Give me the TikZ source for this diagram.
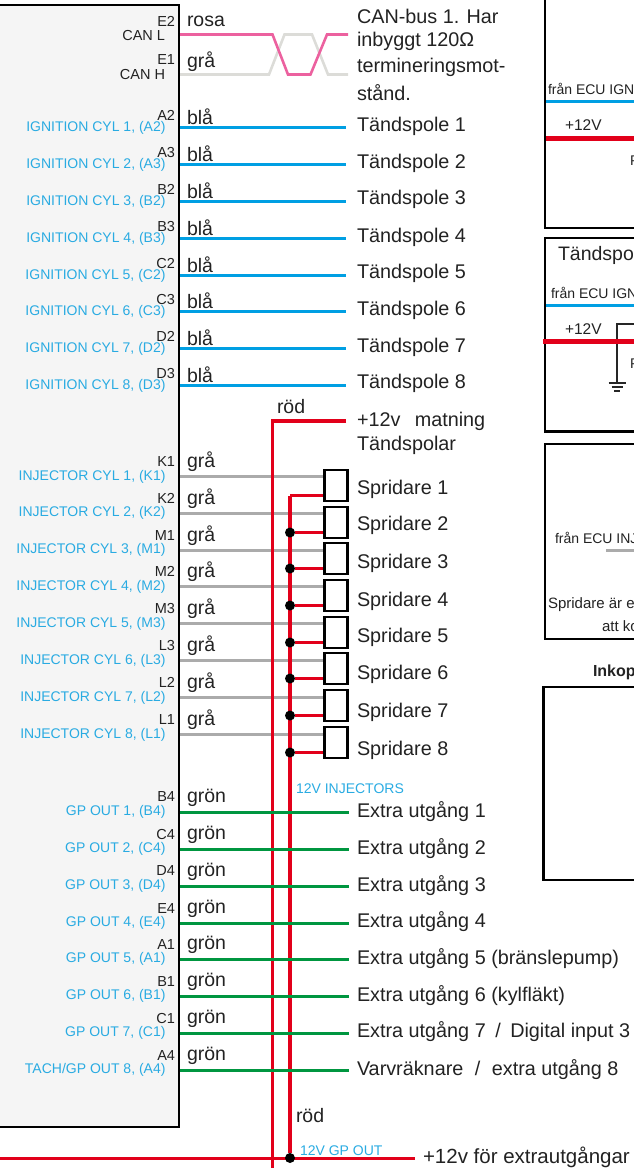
\documentclass[tikz,border=0pt]{standalone}
\usepackage{fontspec}
\setmainfont{Liberation Sans}
\definecolor{bluew}{HTML}{009FE3}
\definecolor{bluet}{HTML}{29ABE2}
\definecolor{redw}{HTML}{E2001A}
\definecolor{greenw}{HTML}{009640}
\definecolor{grayw}{HTML}{ABABAB}
\definecolor{pinkw}{HTML}{EC619F}
\definecolor{canh}{HTML}{DCDCD8}
\definecolor{ink}{HTML}{222222}
\tikzset{
  x=1pt,y=-1pt,
  every node/.style={inner sep=0pt,outer sep=0pt,text=ink},
  lab/.style={anchor=west,yshift=-1.5pt,font=\fontsize{19.8}{19.8}\selectfont},
  col/.style={anchor=west,yshift=-1pt,font=\fontsize{19.5}{19.5}\selectfont},
  pin/.style={anchor=east,font=\fontsize{14.5}{14.5}\selectfont},
  fn/.style={anchor=east,yshift=-1pt,font=\fontsize{14}{14}\selectfont,text=bluet},
  small/.style={anchor=west,font=\fontsize{14}{14}\selectfont},
  mid/.style={anchor=west,font=\fontsize{15.5}{15.5}\selectfont},
  panel/.style={draw=black,line width=2.4pt},
  wire/.style={line width=2.4pt},
  bluewire/.style={wire,draw=bluew},
  graywire/.style={wire,draw=grayw},
  greenwire/.style={wire,draw=greenw},
  redwire/.style={line width=3.4pt,draw=redw},
  inj/.style={draw=black,line width=2.4pt,fill=white,minimum width=23pt,minimum height=31pt,anchor=north west},
  junction/.style={circle,fill=black,minimum size=10pt},
  thin/.style={draw=black!85,line width=1.1pt},
}
\begin{document}
\begin{tikzpicture}
\useasboundingbox (0,0) rectangle (634,1168);
% ECU
\path[fill=black!4,draw=black,line width=2.6pt] (-10,5) rectangle (179,1127);
% CAN
\coordinate (canLa) at (180,34.5);
\coordinate (canLb) at (272.5,34.5);
\coordinate (canLc) at (288,74.5);
\coordinate (canLd) at (310.5,74.5);
\coordinate (canLe) at (327,34.5);
\coordinate (canLf) at (348,34.5);
\coordinate (canHa) at (180,74.5);
\coordinate (canHb) at (269,74.5);
\coordinate (canHc) at (284.5,34.5);
\coordinate (canHd) at (312,34.5);
\coordinate (canHe) at (328,74.5);
\coordinate (canHf) at (348,74.5);
\draw[canh,line width=2.6pt] (canHa)--(canHb)--(canHc)--(canHd)--(canHe)--(canHf);
\draw[pinkw,line width=2.6pt] (canLa)--(canLb)--(canLc)--(canLd)--(canLe)--(canLf);
\node[pin] (pE2) at (175,21) {E2};
\node[pin] (pE1) at (175,60) {E1};
\node[pin] (nL) at (165,36) {CAN L};
\node[pin] (nH) at (165,75) {CAN H};
\node[col] (cL) at (187,20.5) {rosa};
\node[col] (cH) at (187,60.5) {grå};
\node[lab] (t1) at (357,14.5) {CAN-bus 1. Har};
\node[lab] (t2) at (357,40) {inbyggt 120Ω};
\node[lab] (t3) at (357,66) {termineringsmot-};
\node[lab] (t4) at (357,91) {stånd.};
% Ignition
\foreach \i/\y/\p/\ty in {1/127.5/A2/125,2/164.5/A3/162,3/201.5/B2/198,4/238.5/B3/236,5/275.5/C2/272,6/311.5/C3/309,7/348.5/D2/346,8/385.5/D3/382}{
  \coordinate (ia\i) at (180,\y);
  \coordinate (ib\i) at (346,\y);
  \draw[bluewire] (ia\i)--(ib\i);
  \node[pin] (ip\i) at (175,\y-12) {\p};
  \node[fn] (if\i) at (165.5,\y-0.5) {IGNITION CYL \i, (\p)};
  \node[col] (ic\i) at (187,\y-12) {blå};
  \node[lab] (il\i) at (357,\ty) {Tändspole \i};
}
% Injector gray wires
\foreach \i/\y/\p/\ty in {1/476.5/K1/488,2/513.5/K2/524,3/550.5/M1/562,4/586.5/M2/600,5/623.5/M3/636,6/660.5/L3/673,7/697.5/L2/711,8/734.5/L1/749}{
  \coordinate (ga\i) at (180,\y);
  \coordinate (gb\i) at (323,\y);
  \draw[graywire] (ga\i)--(gb\i);
  \node[pin] (gp\i) at (175,\y-15) {\p};
  \node[col] (gc\i) at (187,\y-15.5) {grå};
  \node[lab] (gl\i) at (357,\ty) {Spridare \i};
}
\node[fn] (gf1) at (165.5,476) {INJECTOR CYL 1, (K1)};
\node[fn] (gf2) at (165.5,511.5) {INJECTOR CYL 2, (K2)};
\node[fn] (gf3) at (165.5,548.5) {INJECTOR CYL 3, (M1)};
\node[fn] (gf4) at (165.5,585.5) {INJECTOR CYL 4, (M2)};
\node[fn] (gf5) at (165.5,622.5) {INJECTOR CYL 5, (M3)};
\node[fn] (gf6) at (165.5,660) {INJECTOR CYL 6, (L3)};
\node[fn] (gf7) at (165.5,697) {INJECTOR CYL 7, (L2)};
\node[fn] (gf8) at (165.5,733.5) {INJECTOR CYL 8, (L1)};
% Red supply
\coordinate (rA) at (346,421);
\coordinate (rB) at (272.5,421);
\coordinate (rC) at (272.5,1172);
\draw[redwire] (rA)--(rB)--(rC);
\coordinate (busL) at (-5,1158.5);
\coordinate (busR) at (415,1158.5);
\draw[redwire] (busL)--(busR);
\node[col] (rod1) at (277,406) {röd};
\node[lab] (s12a) at (357,420) {+12v\ \ \,matning};
\node[lab] (s12b) at (357,444) {Tändspolar};
% Injector boxes and supply
\coordinate (iT) at (290,495.5);
\node[junction] (jG) at (290,1158) {};
\draw[redwire] (jG)--(iT);
\foreach \i/\y in {1/470,2/507,3/543,4/580,5/617,6/653,7/690,8/727}{
  \node[inj] (sp\i) at (324.5,\y) {};
  \coordinate (st\i) at (323,\y+25.5);
}
\draw[redwire] (iT)--(st1);
\foreach \i in {2,...,8}{
  \path (st\i) -- ++(-33,0) coordinate (sj\i);
  \node[junction] (sd\i) at (sj\i) {};
  \draw[redwire] (sd\i)--(st\i);
}
\node[small,text=bluet] (inj12) at (296,789) {12V INJECTORS};
% Green
\foreach \i/\y/\p/\ty/\f/\t in {
 1/812.5/B4/810/{GP OUT 1, (B4)}/{Extra utgång 1},
 2/849.5/C4/847/{GP OUT 2, (C4)}/{Extra utgång 2},
 3/886.5/D4/884/{GP OUT 3, (D4)}/{Extra utgång 3},
 4/923.5/E4/920/{GP OUT 4, (E4)}/{Extra utgång 4},
 5/959.5/A1/957/{GP OUT 5, (A1)}/{Extra utgång 5 (bränslepump)},
 6/996.5/B1/994/{GP OUT 6, (B1)}/{Extra utgång 6 (kylfläkt)},
 7/1033.5/C1/1030/{GP OUT 7, (C1)}/{Extra utgång 7\hspace{4pt} / \hspace{4pt}Digital input 3},
 8/1070.5/A4/1068/{TACH/GP OUT 8, (A4)}/{Varvräknare\hspace{6pt} / \hspace{6pt}extra utgång 8}}{
  \coordinate (ea\i) at (180,\y);
  \coordinate (eb\i) at (349,\y);
  \draw[greenwire] (ea\i)--(eb\i);
  \node[pin] (ep\i) at (175,\y-15.5) {\p};
  \node[fn] (ef\i) at (165.5,\y-1.5) {\f};
  \node[col] (ec\i) at (187,\y-16) {grön};
  \node[lab] (el\i) at (357,\ty) {\t};
}
\node[col] (rod2) at (296,1115) {röd};
\node[small,text=bluet] (gp12) at (300,1151) {12V GP OUT};
\node[lab,font=\fontsize{20.5}{20.5}\selectfont] (ext) at (423,1156) {+12v för extrautgångar};
% Right panels
\draw[panel] (545,-5) rectangle (650,228);
\draw[panel] (545,238) rectangle (650,431.5);
\draw[panel] (545,444) rectangle (650,639);
\draw[panel] (543.5,687) rectangle (650,880);
% Panel 1
\node[small] (p1a) at (548,89) {från ECU IGN};
\coordinate (p1b0) at (546,101.5); \coordinate (p1b1) at (640,101.5);
\draw[bluewire] (p1b0)--(p1b1);
\node[mid] (p1c) at (565,125) {+12V};
\coordinate (p1r0) at (546,138.5); \coordinate (p1r1) at (640,138.5);
\draw[draw=redw,line width=4.8pt] (p1r0)--(p1r1);
\node[small] (p1d) at (630,161) {P};
% Panel 2
\node[anchor=west,font=\fontsize{19.5}{19.5}\selectfont] (p2t) at (558,255) {Tändspo};
\node[small] (p2a) at (551,293) {från ECU IGN};
\coordinate (p2b0) at (546,305.5); \coordinate (p2b1) at (640,305.5);
\draw[bluewire] (p2b0)--(p2b1);
\node[mid] (p2c) at (565,329) {+12V};
\coordinate (g0) at (640,324); \coordinate (g1) at (617,324); \coordinate (g2) at (617,383);
\coordinate (g3a) at (608.5,383); \coordinate (g3b) at (625.5,383);
\coordinate (g4a) at (611.5,387); \coordinate (g4b) at (622.5,387);
\coordinate (g5a) at (614,391); \coordinate (g5b) at (620,391);
\draw[thin] (g0)--(g1)--(g2);
\draw[thin] (g3a)--(g3b);
\draw[thin] (g4a)--(g4b);
\draw[thin] (g5a)--(g5b);
\coordinate (p2r0) at (543,341.5); \coordinate (p2r1) at (640,341.5);
\draw[draw=redw,line width=4.8pt] (p2r0)--(p2r1);
\node[small] (p2d) at (630,364) {P};
% Panel 3
\node[small] (p3a) at (555,538) {från ECU INJ};
\coordinate (p3g0) at (606,550.5); \coordinate (p3g1) at (640,550.5);
\draw[graywire] (p3g0)--(p3g1);
\node[mid,font=\fontsize{15}{15}\selectfont] (p3b) at (548,605) {Spridare är e};
\node[mid,font=\fontsize{15}{15}\selectfont] (p3c) at (602,626) {att ko};
% Panel 4 title
\node[anchor=west,font=\bfseries\fontsize{16}{16}\selectfont] (p4t) at (593,672) {Inkop};
\end{tikzpicture}
\end{document}
